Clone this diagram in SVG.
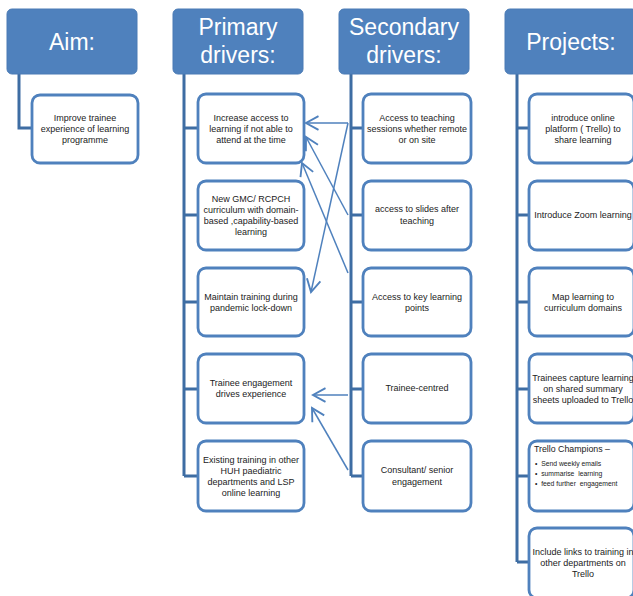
<svg xmlns="http://www.w3.org/2000/svg" width="633" height="596" viewBox="0 0 633 596">
<style>
.hdr{fill:#4F81BD;stroke:#4A7BB5;stroke-width:1}
.ht{font-family:"Liberation Sans",Arial,sans-serif;font-size:23px;fill:#fff;text-anchor:middle}
.box{fill:#fff;stroke:#4F81BD;stroke-width:2.8}
.t{font-family:"Liberation Sans",Arial,sans-serif;font-size:9px;fill:#222;text-anchor:middle}
.tl{font-family:"Liberation Sans",Arial,sans-serif;font-size:8.8px;fill:#222}
.sm{font-family:"Liberation Sans",Arial,sans-serif;font-size:6.8px;fill:#222}
.tree{fill:none;stroke:#3E6DA3;stroke-width:3}
.arr{fill:none;stroke:#4F81BD;stroke-width:1.5;marker-end:url(#ah)}
</style>
<defs>
<marker id="ah" markerUnits="userSpaceOnUse" markerWidth="20" markerHeight="20" viewBox="-12 -8 14 16" refX="0" refY="0" orient="auto">
<path d="M-10,-5.5 L0,0 L-10,5.5" fill="none" stroke="#4F81BD" stroke-width="1.5"/>
</marker>
</defs>
<rect width="633" height="596" fill="#fff"/>

<g id="connectors">
<path class="tree" d="M19,74 V128 H32"/>
<path class="tree" d="M184,74 V476 M184,128 H198 M184,215 H198 M184,302 H198 M184,389 H198 M184,476 H198"/>
<path class="tree" d="M351,74 V476 M351,128 H363 M351,215 H363 M351,302 H363 M351,389 H363 M351,476 H363"/>
<path class="tree" d="M517,74 V562 M517,128 H529 M517,215 H529 M517,302 H529 M517,389 H529 M517,476 H529 M517,562 H529"/>
<line class="arr" x1="348" y1="123" x2="306" y2="123"/>
<line class="arr" x1="348" y1="123" x2="311" y2="292"/>
<line class="arr" x1="348" y1="215" x2="306" y2="137"/>
<line class="arr" x1="348" y1="273" x2="302" y2="163"/>
<line class="arr" x1="348" y1="395" x2="313" y2="395"/>
<line class="arr" x1="348" y1="470" x2="312" y2="408"/>
</g>

<g id="aim-header"><rect class="hdr" x="7" y="9" width="130" height="65" rx="5"/><text class="ht" x="72" y="50">Aim:</text></g>
<g id="primary-header"><rect class="hdr" x="173" y="9" width="130" height="65" rx="5"/><text class="ht" x="238" y="35">Primary</text><text class="ht" x="238" y="63">drivers:</text></g>
<g id="secondary-header"><rect class="hdr" x="339" y="9" width="130" height="65" rx="5"/><text class="ht" x="404" y="35">Secondary</text><text class="ht" x="404" y="63">drivers:</text></g>
<g id="projects-header"><rect class="hdr" x="505" y="9" width="132" height="65" rx="5"/><text class="ht" x="571" y="50">Projects:</text></g>

<g id="aim-1"><rect class="box" x="32" y="95" width="106" height="68" rx="8"/>
<text class="t" x="85" y="121">Improve trainee</text><text class="t" x="85" y="132">experience of learning</text><text class="t" x="85" y="143">programme</text></g>

<g id="p1"><rect class="box" x="198" y="94" width="106" height="69" rx="8"/>
<text class="t" x="251" y="121">Increase access to</text><text class="t" x="251" y="132">learning if not able to</text><text class="t" x="251" y="143">attend at the time</text></g>
<g id="p2"><rect class="box" x="198" y="181" width="106" height="69" rx="8"/>
<text class="t" x="251" y="202">New GMC/ RCPCH</text><text class="t" x="251" y="213">curriculum with domain-</text><text class="t" x="251" y="224">based ,capability-based</text><text class="t" x="251" y="235">learning</text></g>
<g id="p3"><rect class="box" x="198" y="268" width="106" height="68" rx="8"/>
<text class="t" x="251" y="300">Maintain training during</text><text class="t" x="251" y="311">pandemic lock-down</text></g>
<g id="p4"><rect class="box" x="198" y="354" width="106" height="69" rx="8"/>
<text class="t" x="251" y="386">Trainee engagement</text><text class="t" x="251" y="397">drives experience</text></g>
<g id="p5"><rect class="box" x="198" y="441" width="106" height="70" rx="8"/>
<text class="t" x="251" y="463">Existing training in other</text><text class="t" x="251" y="474">HUH paediatric</text><text class="t" x="251" y="485">departments and LSP</text><text class="t" x="251" y="496">online learning</text></g>

<g id="s1"><rect class="box" x="363" y="94" width="108" height="69" rx="8"/>
<text class="t" x="417" y="121">Access to teaching</text><text class="t" x="417" y="132">sessions whether remote</text><text class="t" x="417" y="143">or on site</text></g>
<g id="s2"><rect class="box" x="363" y="181" width="108" height="69" rx="8"/>
<text class="t" x="417" y="212">access to slides after</text><text class="t" x="417" y="224">teaching</text></g>
<g id="s3"><rect class="box" x="363" y="268" width="108" height="68" rx="8"/>
<text class="t" x="417" y="300">Access to key learning</text><text class="t" x="417" y="311">points</text></g>
<g id="s4"><rect class="box" x="363" y="354" width="108" height="69" rx="8"/>
<text class="t" x="417" y="391">Trainee-centred</text></g>
<g id="s5"><rect class="box" x="363" y="441" width="108" height="70" rx="8"/>
<text class="t" x="417" y="473">Consultant/ senior</text><text class="t" x="417" y="485">engagement</text></g>

<g id="j1"><rect class="box" x="529" y="94" width="105" height="69" rx="8"/>
<text class="t" x="583" y="121">introduce online</text><text class="t" x="583" y="132">platform ( Trello) to</text><text class="t" x="583" y="143">share learning</text></g>
<g id="j2"><rect class="box" x="529" y="181" width="105" height="69" rx="8"/>
<text class="t" x="583" y="218">Introduce Zoom learning</text></g>
<g id="j3"><rect class="box" x="529" y="268" width="105" height="68" rx="8"/>
<text class="t" x="583" y="300">Map learning to</text><text class="t" x="583" y="311">curriculum domains</text></g>
<g id="j4"><rect class="box" x="529" y="354" width="105" height="69" rx="8"/>
<text class="t" x="583" y="381">Trainees capture learning</text><text class="t" x="583" y="392">on shared summary</text><text class="t" x="583" y="403">sheets uploaded to Trello</text></g>
<g id="j5"><rect class="box" x="529" y="441" width="105" height="70" rx="8"/>
<text class="tl" x="534" y="452">Trello Champions –</text>
<text class="sm" x="535" y="466">•&#160; Send weekly emails</text>
<text class="sm" x="535" y="476">•&#160; summarise&#160; learning</text>
<text class="sm" x="535" y="486">•&#160; feed further&#160; engagement</text></g>
<g id="j6"><rect class="box" x="529" y="528" width="105" height="70" rx="8"/>
<text class="t" x="583" y="555">Include links to training in</text><text class="t" x="583" y="566">other departments on</text><text class="t" x="583" y="577">Trello</text></g>
</svg>
